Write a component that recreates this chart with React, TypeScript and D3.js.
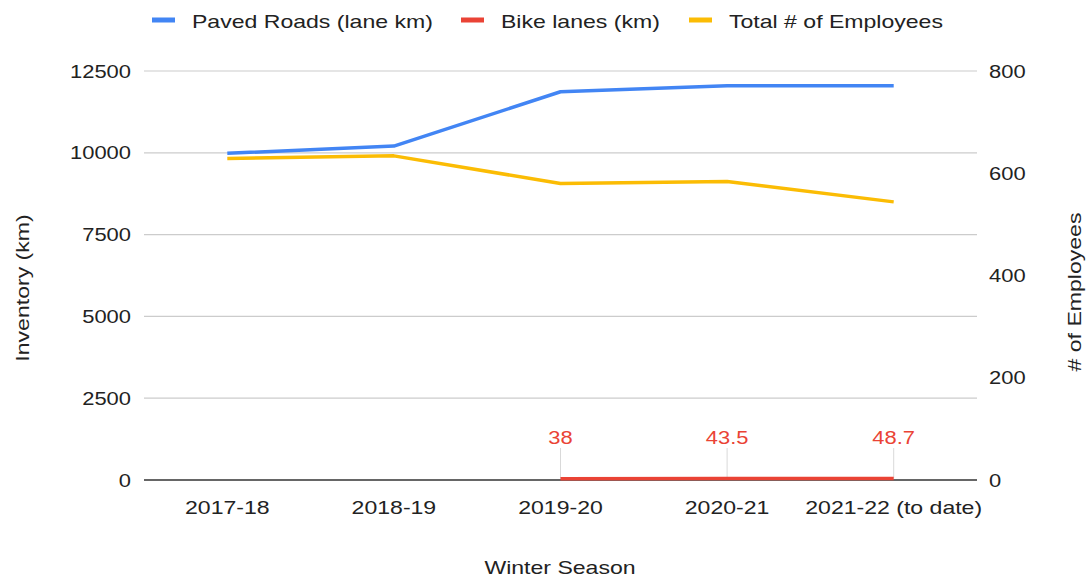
import React from "react";
import * as d3 from "d3";

const seasons = ["2017-18", "2018-19", "2019-20", "2020-21", "2021-22 (to date)"];
const pavedRoads = [9985, 10205, 11865, 12050, 12050];
const bikeLanes: (number | null)[] = [null, null, 38, 43.5, 48.7];
const employees = [629, 634, 580, 584, 544];
const leftTicks = [0, 2500, 5000, 7500, 10000, 12500];
const rightTicks = [0, 200, 400, 600, 800];

const W = 1089;
const H = 580;
const L = 144;
const R = 977;
const T = 71;
const B = 480;
const FONT = "'Liberation Sans', Arial, sans-serif";
const FS = 18.6;
const SX_TEXT = 1.24;
const SX_NUM = 1.18;
const BLUE = "#4285f4";
const RED = "#ea4335";
const YELLOW = "#fbbc04";
const INK = "#222222";

type TxtProps = {
  x: number;
  y: number;
  sx: number;
  rotate?: number;
  anchor?: "start" | "middle" | "end";
  fill?: string;
  children: React.ReactNode;
};

function Txt({ x, y, sx, rotate = 0, anchor = "middle", fill = INK, children }: TxtProps) {
  return (
    <text
      transform={`translate(${x},${y}) rotate(${rotate}) scale(${sx},1)`}
      dy="0.35em"
      textAnchor={anchor}
      fontSize={FS}
      fill={fill}
    >
      {children}
    </text>
  );
}

export default function App() {
  const x = d3.scaleBand<string>().domain(seasons).range([L, R]);
  const cx = (s: string) => (x(s) as number) + x.bandwidth() / 2;
  const yL = d3.scaleLinear().domain([0, 12500]).range([B, T]);
  const yR = d3.scaleLinear().domain([0, 800]).range([B, T]);

  const lineL = d3
    .line<number | null>()
    .defined((d) => d !== null)
    .x((_, i) => cx(seasons[i]))
    .y((d) => yL(d as number));
  const lineR = d3
    .line<number>()
    .x((_, i) => cx(seasons[i]))
    .y((d) => yR(d));

  const legend = [
    { label: "Paved Roads (lane km)", color: BLUE, x: 152 },
    { label: "Bike lanes (km)", color: RED, x: 461 },
    { label: "Total # of Employees", color: YELLOW, x: 689 },
  ];

  return (
    <svg
      width={W}
      height={H}
      style={{ position: "absolute", left: 0, top: 0, background: "#fff" }}
      fontFamily={FONT}
    >
      {/* legend */}
      {legend.map((l) => (
        <g key={l.label}>
          <rect x={l.x} y={17.5} width={23} height={5} fill={l.color} />
          <Txt x={l.x + 40} y={21.5} sx={SX_TEXT} anchor="start">
            {l.label}
          </Txt>
        </g>
      ))}

      {/* gridlines */}
      {leftTicks.map((t) => (
        <line
          key={t}
          x1={L}
          x2={R}
          y1={yL(t)}
          y2={yL(t)}
          stroke={t === 0 ? "#333" : "#cccccc"}
          strokeWidth={t === 0 ? 1.5 : 1.2}
        />
      ))}

      {/* left ticks */}
      {leftTicks.map((t) => (
        <Txt key={t} x={131} y={yL(t)} sx={SX_NUM} anchor="end">
          {t}
        </Txt>
      ))}
      {/* right ticks */}
      {rightTicks.map((t) => (
        <Txt key={t} x={989} y={yR(t)} sx={SX_NUM} anchor="start">
          {t}
        </Txt>
      ))}

      {/* x labels */}
      {seasons.map((s) => (
        <Txt key={s} x={cx(s)} y={507} sx={SX_TEXT}>
          {s}
        </Txt>
      ))}

      {/* axis titles */}
      <Txt x={560} y={567} sx={SX_TEXT}>
        Winter Season
      </Txt>
      <Txt x={22} y={288} sx={SX_TEXT} rotate={-90}>
        Inventory (km)
      </Txt>
      <Txt x={1074} y={292} sx={SX_TEXT} rotate={-90}>
        # of Employees
      </Txt>

      {/* leader lines for bike labels */}
      {bikeLanes.map((v, i) =>
        v === null ? null : (
          <line
            key={i}
            x1={cx(seasons[i])}
            x2={cx(seasons[i])}
            y1={448}
            y2={yL(v)}
            stroke="#d9d9d9"
            strokeWidth={1}
          />
        )
      )}

      {/* lines */}
      <path d={lineR(employees) || ""} fill="none" stroke={YELLOW} strokeWidth={3.5} strokeLinejoin="round" />
      <path d={lineL(pavedRoads) || ""} fill="none" stroke={BLUE} strokeWidth={3.5} strokeLinejoin="round" />
      <path d={lineL(bikeLanes) || ""} fill="none" stroke={RED} strokeWidth={3.5} strokeLinejoin="round" />

      {/* bike labels */}
      {bikeLanes.map((v, i) =>
        v === null ? null : (
          <Txt key={i} x={cx(seasons[i])} y={437} sx={SX_NUM} fill={RED}>
            {v}
          </Txt>
        )
      )}
    </svg>
  );
}
